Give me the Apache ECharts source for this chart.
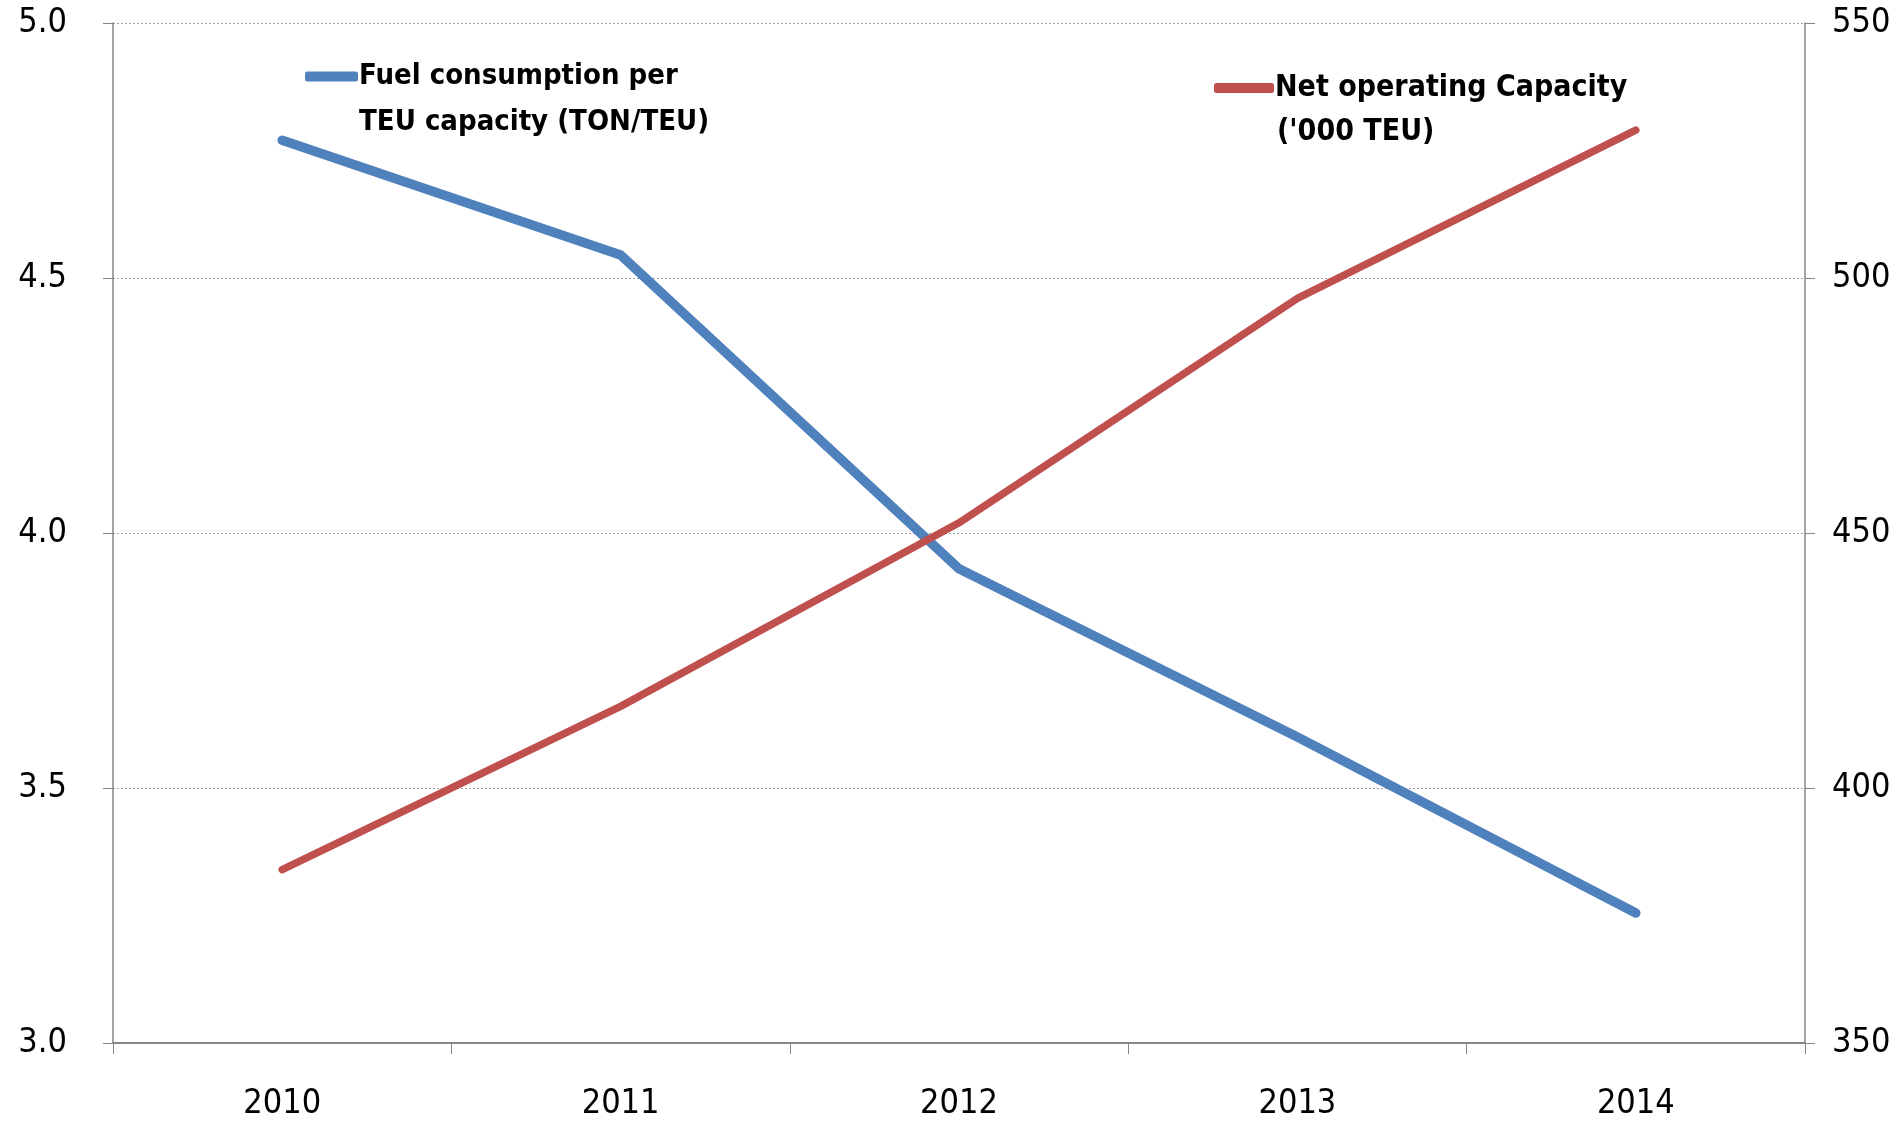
<!DOCTYPE html>
<html>
<head>
<meta charset="utf-8">
<script src="https://cdn.jsdelivr.net/npm/echarts@6/dist/echarts.min.js"></script>
<style>
  html, body { margin: 0; padding: 0; background: #fff; }
  #main { width: 1901px; height: 1121px; }
</style>
</head>
<body>
<div id="main"></div>
<script>
var years = ['2010', '2011', '2012', '2013', '2014'];
var fuelPerTeu = [4.77, 4.545, 3.93, 3.60, 3.255];
var netCapacity = [384, 416, 452, 496, 529];
var fuelName = 'Fuel consumption per TEU capacity (TON/TEU)';
var capName = "Net operating Capacity ('000 TEU)";

var font = '"Liberation Sans Narrow", "DejaVu Sans Condensed", sans-serif';
var axisGray = '#868686';

var chart = echarts.init(document.getElementById('main'));
chart.setOption({
  animation: false,
  backgroundColor: '#fff',
  grid: { left: 113, right: 96, top: 23, bottom: 77 },
  legend: [
    {
      data: [fuelName], left: 300, top: 57, itemWidth: 53, itemHeight: 10,
      icon: 'roundRect', selectedMode: false,
      formatter: function () { return 'Fuel consumption per'; },
      textStyle: { fontFamily: font, fontWeight: 'bold', fontSize: 29, color: '#000', padding: [0, 0, 0, -4] }
    },
    {
      data: [capName], left: 1209, top: 68, itemWidth: 60, itemHeight: 10,
      icon: 'roundRect', selectedMode: false,
      formatter: function () { return 'Net operating Capacity'; },
      textStyle: { fontFamily: font, fontWeight: 'bold', fontSize: 30, color: '#000', padding: [0, 0, 0, -4] }
    }
  ],
  graphic: [
    { type: 'text', left: 359, top: 108, style: { text: 'TEU capacity (TON/TEU)', font: 'bold 29px ' + font, fill: '#000' } },
    { type: 'text', left: 1277, top: 117, style: { text: "('000 TEU)", font: 'bold 30px ' + font, fill: '#000' } }
  ],
  xAxis: {
    type: 'category',
    data: years,
    boundaryGap: true,
    axisLine: { lineStyle: { color: axisGray, width: 2 } },
    axisTick: { show: true, alignWithLabel: false, length: 11, lineStyle: { color: axisGray } },
    axisLabel: { margin: 44, fontFamily: font, fontSize: 34, color: '#000' }
  },
  yAxis: [
    {
      type: 'value', min: 3, max: 5, interval: 0.5, position: 'left',
      axisLine: { show: true, lineStyle: { color: axisGray, width: 1.5 } },
      axisTick: { show: true, length: 10, lineStyle: { color: axisGray } },
      axisLabel: { margin: 46, fontFamily: font, fontSize: 34, color: '#000',
        formatter: function (v) { return v.toFixed(1); } },
      splitLine: { show: true, lineStyle: { color: '#a0a0a0', type: [2, 2], width: 1 } }
    },
    {
      type: 'value', min: 350, max: 550, interval: 50, position: 'right',
      axisLine: { show: true, lineStyle: { color: axisGray, width: 1.5 } },
      axisTick: { show: true, length: 10, lineStyle: { color: axisGray } },
      axisLabel: { margin: 27, fontFamily: font, fontSize: 34, color: '#000' },
      splitLine: { show: false }
    }
  ],
  series: [
    {
      name: fuelName, type: 'line', yAxisIndex: 0, data: fuelPerTeu,
      symbol: 'none', color: '#4F81BD',
      lineStyle: { width: 9.5, cap: 'round', join: 'round', color: '#4F81BD' }
    },
    {
      name: capName, type: 'line', yAxisIndex: 1, data: netCapacity,
      symbol: 'none', color: '#C0504D',
      lineStyle: { width: 7.5, cap: 'round', join: 'round', color: '#C0504D' }
    }
  ]
});
</script>
</body>
</html>
